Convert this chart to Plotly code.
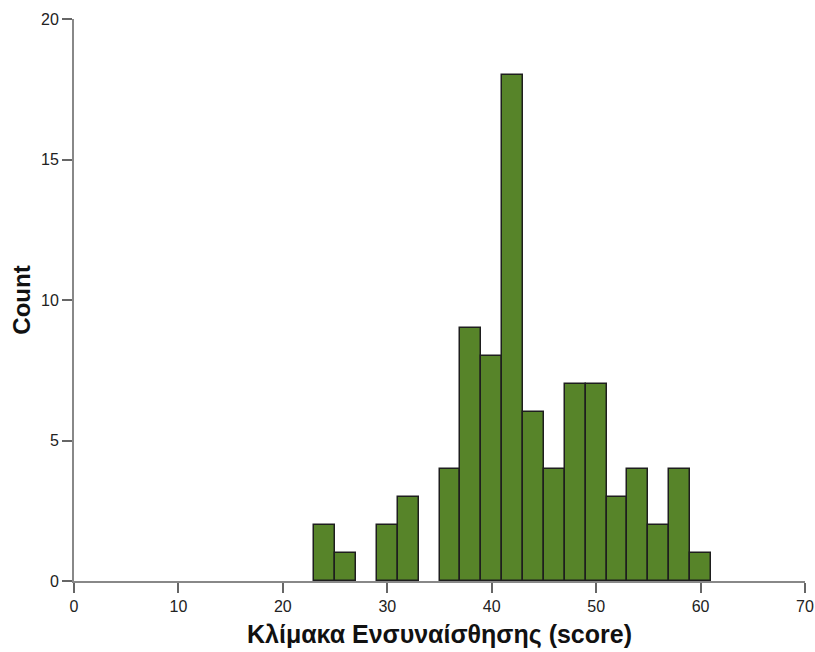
import plotly.graph_objects as go

bin_centers = [24, 26, 28, 30, 32, 34, 36, 38, 40, 42, 44, 46, 48, 50, 52, 54, 56, 58, 60]
counts = [2, 1, 0, 2, 3, 0, 4, 9, 8, 18, 6, 4, 7, 7, 3, 4, 2, 4, 1]
bin_width = 2
x_ticks = [0, 10, 20, 30, 40, 50, 60, 70]
y_ticks = [0, 5, 10, 15, 20]

# empty bins draw no outline
outline_widths = [1.5 if c > 0 else 0 for c in counts]

fig = go.Figure(go.Bar(
    x=bin_centers, y=counts, width=[bin_width] * len(bin_centers),
    marker=dict(color="#578429", line=dict(color="#1e1e1e", width=outline_widths)),
))

fig.update_layout(
    width=815, height=652,
    margin=dict(l=74, r=10, t=19, b=71),
    plot_bgcolor="white", paper_bgcolor="white",
    font=dict(family="Liberation Sans, Arial, sans-serif", size=16, color="#222"),
    showlegend=False, bargap=0,
)
fig.update_xaxes(
    range=[0, 70], tickvals=x_ticks, ticks="outside", ticklen=10, tickwidth=1.5,
    tickcolor="#666", showline=True, linecolor="#888", linewidth=2, showgrid=False,
    zeroline=False, automargin=False, tickfont=dict(size=16, color="#222"),
    title=dict(text="<b>Κλίμακα Ενσυναίσθησης (score)</b>",
               font=dict(size=25, color="#111"), standoff=11),
)
fig.update_yaxes(
    range=[0, 20], tickvals=y_ticks, ticks="outside", ticklen=10, tickwidth=1.5,
    tickcolor="#666", showline=True, linecolor="#888", linewidth=2, showgrid=False,
    zeroline=False, automargin=False, tickfont=dict(size=16, color="#222"),
    title=dict(text="<b>Count</b>", font=dict(size=24, color="#111"), standoff=4),
)

fig.write_html("out.html")
